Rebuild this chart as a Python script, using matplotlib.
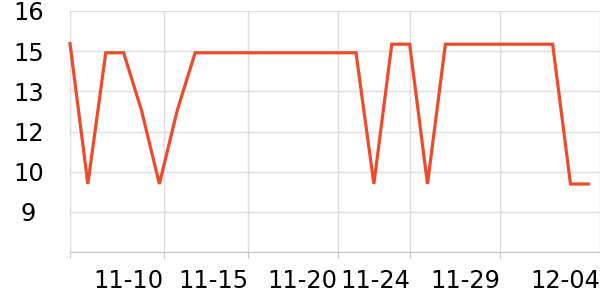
import matplotlib
matplotlib.use("Agg")
import matplotlib.pyplot as plt

# data: 30 daily points
values = [14.78, 9.54, 14.44, 14.44, 12.29, 9.54, 12.29,
          14.44, 14.44, 14.44, 14.44, 14.44, 14.44, 14.44, 14.44, 14.44, 14.44,
          9.54, 14.76, 14.76, 9.54,
          14.76, 14.76, 14.76, 14.76, 14.76, 14.76, 14.76,
          9.54, 9.54]
x_idx = list(range(len(values)))

x_tick_pos = [0, 5.24, 9.97, 14.98, 19.01, 24.05, 29.65]
x_tick_labels = ["", "11-10", "11-15", "11-20", "11-24", "11-29", "12-04"]

y_tick_pos = [7, 8.5, 10, 11.5, 13, 14.5, 16]
y_tick_labels = ["", "9", "10", "12", "13", "15", "16"]

fig = plt.figure(figsize=(6, 3), dpi=100)
ax = fig.add_axes([70/600, 1-252/300, 530/600, 241/300])

ax.plot(x_idx, values, color="#EE4A2B", linewidth=2.3, solid_joinstyle="miter", zorder=3, clip_on=False)

ax.set_xlim(0, 29.65)
ax.set_ylim(7, 16)
ax.set_xticks(x_tick_pos)
ax.set_xticklabels(x_tick_labels, fontsize=17.3, ha="right")
ax.set_yticks(y_tick_pos)
ax.set_yticklabels(y_tick_labels, fontsize=17.3, ha="center")

ax.grid(True, color="#dddddd", linewidth=1)
ax.set_axisbelow(True)
for s in ["top", "right"]:
    ax.spines[s].set_visible(False)
ax.spines["left"].set_color("#dddddd")
ax.spines["bottom"].set_color("#c8c8c8")
ax.tick_params(axis="x", length=4, color="#c8c8c8", pad=8)
ax.tick_params(axis="y", length=0, pad=30)

fig.savefig("out.png", dpi=100)
